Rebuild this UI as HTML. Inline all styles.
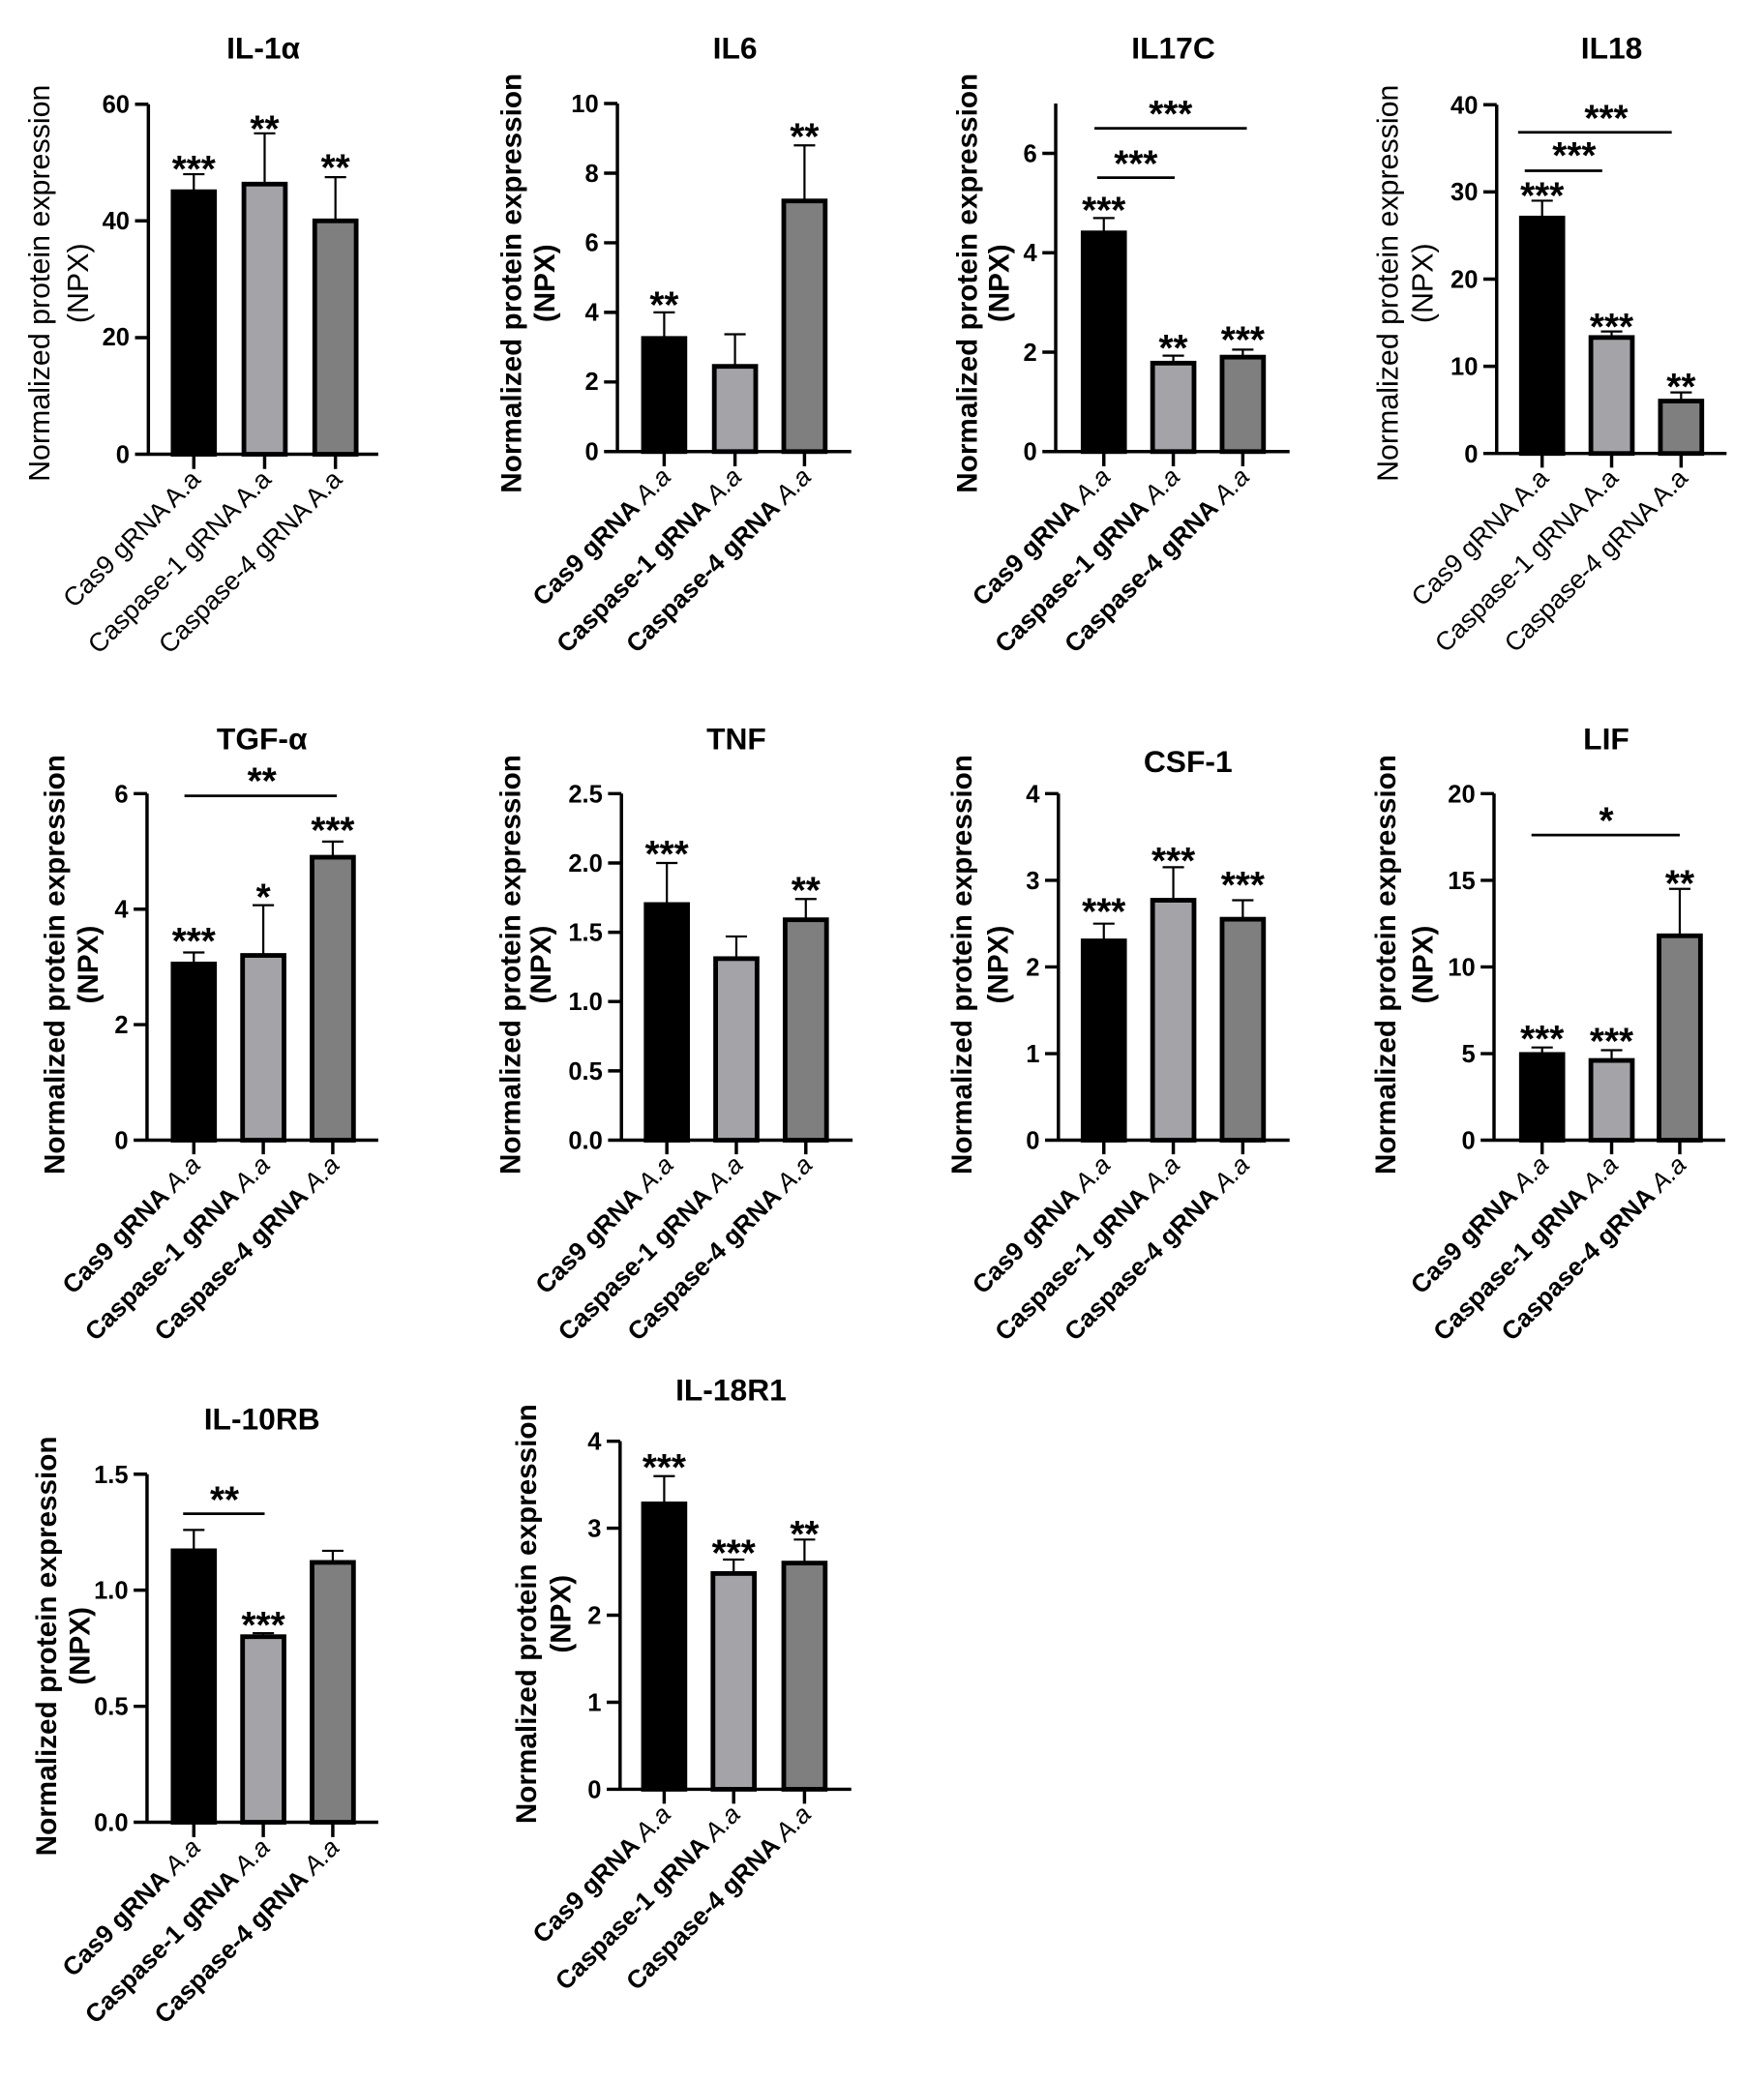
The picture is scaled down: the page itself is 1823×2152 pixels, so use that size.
<!DOCTYPE html>
<html><head><meta charset="utf-8"><style>
html,body{margin:0;padding:0;background:#fff;}
svg{display:block;}
text{font-family:"Liberation Sans",Arial,sans-serif;fill:#000;}
.t{font-size:23px;font-weight:bold;text-anchor:middle;}
.tk{font-size:18.5px;font-weight:bold;text-anchor:end;}
.yl{font-size:21.5px;font-weight:bold;text-anchor:middle;}
.ylr{font-size:22px;font-weight:normal;text-anchor:middle;}
.xl{font-size:19px;font-weight:bold;text-anchor:end;}
.xlr{font-size:19.5px;font-weight:normal;text-anchor:end;}
.it{font-style:italic;font-weight:normal;}
.st{font-size:28px;font-weight:bold;text-anchor:middle;}
.ax{stroke:#000;stroke-width:2.5;fill:none;}
.er{stroke:#000;stroke-width:1.6;fill:none;}
.br{stroke:#000;stroke-width:2;fill:none;}
.b1{fill:#000;stroke:#000;stroke-width:3.5;}
.b2{fill:#a3a3a8;stroke:#000;stroke-width:3.5;}
.b3{fill:#7f7f7f;stroke:#000;stroke-width:3.5;}
</style></head><body>
<svg width="1823" height="2152" viewBox="0 0 1320 1558.3" xmlns="http://www.w3.org/2000/svg">

<!-- Panel 1 IL-1α -->
<text class="t" x="197" y="44">IL-1α</text>
<text class="ylr" transform="translate(37,212) rotate(-90)">Normalized protein expression</text>
<text class="ylr" transform="translate(66,212) rotate(-90)">(NPX)</text>
<path class="ax" d="M111,78 V340 H283 M101,78 H111 M101,165.3 H111 M101,252.7 H111 M101,340 H111 M145,340 V351 M198,340 V351 M251,340 V351"/>
<text class="tk" x="97" y="84.5">60</text><text class="tk" x="97" y="171.5">40</text><text class="tk" x="97" y="258.5">20</text><text class="tk" x="97" y="346.5">0</text>
<rect class="b1" x="129.5" y="143.5" width="31" height="196.5"/>
<rect class="b2" x="182.5" y="137.8" width="31" height="202.2"/>
<rect class="b3" x="235.5" y="165.3" width="31" height="174.7"/>
<path class="er" d="M145,143.5 V130.4 M137,130.4 H153 M198,137.8 V99.8 M190,99.8 H206 M251,165.3 V132.6 M243,132.6 H259"/>
<text class="st" x="145" y="136">***</text><text class="st" x="198" y="106">**</text><text class="st" x="251" y="135">**</text>
<text class="xlr" transform="translate(151,360) rotate(-45)">Cas9 gRNA A.a</text>
<text class="xlr" transform="translate(204,360) rotate(-45)">Caspase-1 gRNA A.a</text>
<text class="xlr" transform="translate(257,360) rotate(-45)">Caspase-4 gRNA A.a</text>

<!-- Panel 2 IL6 -->
<text class="t" x="550" y="44">IL6</text>
<text class="yl" transform="translate(390,212) rotate(-90)">Normalized protein expression</text>
<text class="yl" transform="translate(415,212) rotate(-90)">(NPX)</text>
<path class="ax" d="M462,77.5 V338 H637 M452,77.5 H462 M452,129.6 H462 M452,181.7 H462 M452,233.8 H462 M452,285.9 H462 M452,338 H462 M497,338 V349 M550,338 V349 M602,338 V349"/>
<text class="tk" x="448" y="84">10</text><text class="tk" x="448" y="136">8</text><text class="tk" x="448" y="188">6</text><text class="tk" x="448" y="240">4</text><text class="tk" x="448" y="292">2</text><text class="tk" x="448" y="344.5">0</text>
<rect class="b1" x="481.5" y="253.3" width="31" height="84.7"/>
<rect class="b2" x="534.5" y="274.2" width="31" height="63.8"/>
<rect class="b3" x="586.5" y="150.4" width="31" height="187.6"/>
<path class="er" d="M497,253.3 V233.8 M489,233.8 H505 M550,274.2 V250.2 M542,250.2 H558 M602,150.4 V108.8 M594,108.8 H610"/>
<text class="st" x="497" y="238">**</text><text class="st" x="602" y="112">**</text>
<text class="xl" transform="translate(503,358) rotate(-45)">Cas9 gRNA <tspan class="it">A.a</tspan></text>
<text class="xl" transform="translate(556,358) rotate(-45)">Caspase-1 gRNA <tspan class="it">A.a</tspan></text>
<text class="xl" transform="translate(608,358) rotate(-45)">Caspase-4 gRNA <tspan class="it">A.a</tspan></text>

<!-- Panel 3 IL17C -->
<text class="t" x="878" y="44">IL17C</text>
<text class="yl" transform="translate(731,212) rotate(-90)">Normalized protein expression</text>
<text class="yl" transform="translate(755,212) rotate(-90)">(NPX)</text>
<path class="ax" d="M790,77.5 V338 H965 M780,114.8 H790 M780,189.2 H790 M780,263.6 H790 M780,338 H790 M826,338 V349 M878,338 V349 M930,338 V349"/>
<text class="tk" x="776" y="121.3">6</text><text class="tk" x="776" y="195.7">4</text><text class="tk" x="776" y="270">2</text><text class="tk" x="776" y="344.5">0</text>
<rect class="b1" x="810.5" y="174.3" width="31" height="163.7"/>
<rect class="b2" x="862.5" y="271.8" width="31" height="66.2"/>
<rect class="b3" x="914.5" y="267.3" width="31" height="70.7"/>
<path class="er" d="M826,174.3 V163.2 M818,163.2 H834 M878,271.8 V266.2 M870,266.2 H886 M930,267.3 V261.7 M922,261.7 H938"/>
<path class="br" d="M821,133 H879 M819,96 H933"/>
<text class="st" x="826" y="167">***</text><text class="st" x="878" y="270">**</text><text class="st" x="930" y="264">***</text>
<text class="st" x="850" y="132">***</text><text class="st" x="876" y="95">***</text>
<text class="xl" transform="translate(832,358) rotate(-45)">Cas9 gRNA <tspan class="it">A.a</tspan></text>
<text class="xl" transform="translate(884,358) rotate(-45)">Caspase-1 gRNA <tspan class="it">A.a</tspan></text>
<text class="xl" transform="translate(936,358) rotate(-45)">Caspase-4 gRNA <tspan class="it">A.a</tspan></text>

<!-- Panel 4 IL18 -->
<text class="t" x="1206" y="44">IL18</text>
<text class="ylr" transform="translate(1046,212) rotate(-90)">Normalized protein expression</text>
<text class="ylr" transform="translate(1072,212) rotate(-90)">(NPX)</text>
<path class="ax" d="M1120,78.4 V339.4 H1292 M1110,78.4 H1120 M1110,143.65 H1120 M1110,208.9 H1120 M1110,274.15 H1120 M1110,339.4 H1120 M1154,339.4 V350 M1206,339.4 V350 M1258,339.4 V350"/>
<text class="tk" x="1106" y="85">40</text><text class="tk" x="1106" y="150">30</text><text class="tk" x="1106" y="215.4">20</text><text class="tk" x="1106" y="280.6">10</text><text class="tk" x="1106" y="346">0</text>
<rect class="b1" x="1138.5" y="163.2" width="31" height="176.2"/>
<rect class="b2" x="1190.5" y="252.6" width="31" height="86.8"/>
<rect class="b3" x="1242.5" y="300.2" width="31" height="39.2"/>
<path class="er" d="M1154,163.2 V150.2 M1146,150.2 H1162 M1206,252.6 V248.1 M1198,248.1 H1214 M1258,300.2 V293.7 M1250,293.7 H1266"/>
<path class="br" d="M1141,127.8 H1199 M1136,99 H1251"/>
<text class="st" x="1154" y="156">***</text><text class="st" x="1206" y="254">***</text><text class="st" x="1258" y="299">**</text>
<text class="st" x="1178" y="126">***</text><text class="st" x="1202" y="98">***</text>
<text class="xlr" transform="translate(1160,359) rotate(-45)">Cas9 gRNA A.a</text>
<text class="xlr" transform="translate(1212,359) rotate(-45)">Caspase-1 gRNA A.a</text>
<text class="xlr" transform="translate(1264,359) rotate(-45)">Caspase-4 gRNA A.a</text>

<!-- Panel 5 TGF-α -->
<text class="t" x="196" y="561">TGF-α</text>
<text class="yl" transform="translate(48,722) rotate(-90)">Normalized protein expression</text>
<text class="yl" transform="translate(73,722) rotate(-90)">(NPX)</text>
<path class="ax" d="M110,594 V853.4 H283 M100,594 H110 M100,680.5 H110 M100,766.9 H110 M100,853.4 H110 M145,853.4 V864 M197,853.4 V864 M249,853.4 V864"/>
<text class="tk" x="96" y="600.5">6</text><text class="tk" x="96" y="687">4</text><text class="tk" x="96" y="773.4">2</text><text class="tk" x="96" y="860">0</text>
<rect class="b1" x="129.5" y="721.5" width="31" height="131.9"/>
<rect class="b2" x="181.5" y="715.1" width="31" height="138.3"/>
<rect class="b3" x="233.5" y="641.6" width="31" height="211.8"/>
<path class="er" d="M145,721.5 V712.9 M137,712.9 H153 M197,715.1 V677.5 M189,677.5 H205 M249,641.6 V629.9 M241,629.9 H257"/>
<path class="br" d="M138,595.7 H252"/>
<text class="st" x="145" y="714">***</text><text class="st" x="197" y="681">*</text><text class="st" x="249" y="631">***</text><text class="st" x="196" y="594">**</text>
<text class="xl" transform="translate(151,873) rotate(-45)">Cas9 gRNA <tspan class="it">A.a</tspan></text>
<text class="xl" transform="translate(203,873) rotate(-45)">Caspase-1 gRNA <tspan class="it">A.a</tspan></text>
<text class="xl" transform="translate(255,873) rotate(-45)">Caspase-4 gRNA <tspan class="it">A.a</tspan></text>

<!-- Panel 6 TNF -->
<text class="t" x="551" y="561">TNF</text>
<text class="yl" transform="translate(389,722) rotate(-90)">Normalized protein expression</text>
<text class="yl" transform="translate(412,722) rotate(-90)">(NPX)</text>
<path class="ax" d="M465,594 V853.4 H638 M455,594 H465 M455,645.9 H465 M455,697.8 H465 M455,749.6 H465 M455,801.5 H465 M455,853.4 H465 M499,853.4 V864 M551,853.4 V864 M603,853.4 V864"/>
<text class="tk" x="451" y="600.5">2.5</text><text class="tk" x="451" y="652.4">2.0</text><text class="tk" x="451" y="704.3">1.5</text><text class="tk" x="451" y="756">1.0</text><text class="tk" x="451" y="808">0.5</text><text class="tk" x="451" y="860">0.0</text>
<rect class="b1" x="483.5" y="677" width="31" height="176.4"/>
<rect class="b2" x="535.5" y="717.5" width="31" height="135.9"/>
<rect class="b3" x="587.5" y="688.4" width="31" height="165"/>
<path class="er" d="M499,677 V645.9 M491,645.9 H507 M551,717.5 V700.9 M543,700.9 H559 M603,688.4 V672.9 M595,672.9 H611"/>
<text class="st" x="499" y="649">***</text><text class="st" x="603" y="676">**</text>
<text class="xl" transform="translate(505,873) rotate(-45)">Cas9 gRNA <tspan class="it">A.a</tspan></text>
<text class="xl" transform="translate(557,873) rotate(-45)">Caspase-1 gRNA <tspan class="it">A.a</tspan></text>
<text class="xl" transform="translate(609,873) rotate(-45)">Caspase-4 gRNA <tspan class="it">A.a</tspan></text>

<!-- Panel 7 CSF-1 -->
<text class="t" x="889" y="578">CSF-1</text>
<text class="yl" transform="translate(727,722) rotate(-90)">Normalized protein expression</text>
<text class="yl" transform="translate(754,722) rotate(-90)">(NPX)</text>
<path class="ax" d="M792,594 V853.4 H965 M782,594 H792 M782,658.9 H792 M782,723.7 H792 M782,788.6 H792 M782,853.4 H792 M826,853.4 V864 M878,853.4 V864 M930,853.4 V864"/>
<text class="tk" x="778" y="600.5">4</text><text class="tk" x="778" y="665.4">3</text><text class="tk" x="778" y="730.2">2</text><text class="tk" x="778" y="795">1</text><text class="tk" x="778" y="860">0</text>
<rect class="b1" x="810.5" y="704.2" width="31" height="149.2"/>
<rect class="b2" x="862.5" y="673.8" width="31" height="179.6"/>
<rect class="b3" x="914.5" y="688" width="31" height="165.4"/>
<path class="er" d="M826,704.2 V691.3 M818,691.3 H834 M878,673.8 V649.1 M870,649.1 H886 M930,688 V673.8 M922,673.8 H938"/>
<text class="st" x="826" y="692">***</text><text class="st" x="878" y="654">***</text><text class="st" x="930" y="672">***</text>
<text class="xl" transform="translate(832,873) rotate(-45)">Cas9 gRNA <tspan class="it">A.a</tspan></text>
<text class="xl" transform="translate(884,873) rotate(-45)">Caspase-1 gRNA <tspan class="it">A.a</tspan></text>
<text class="xl" transform="translate(936,873) rotate(-45)">Caspase-4 gRNA <tspan class="it">A.a</tspan></text>

<!-- Panel 8 LIF -->
<text class="t" x="1202" y="561">LIF</text>
<text class="yl" transform="translate(1044,722) rotate(-90)">Normalized protein expression</text>
<text class="yl" transform="translate(1072,722) rotate(-90)">(NPX)</text>
<path class="ax" d="M1118,594 V853.4 H1291 M1108,594 H1118 M1108,658.9 H1118 M1108,723.7 H1118 M1108,788.6 H1118 M1108,853.4 H1118 M1154,853.4 V864 M1206,853.4 V864 M1257,853.4 V864"/>
<text class="tk" x="1104" y="600.5">20</text><text class="tk" x="1104" y="665.4">15</text><text class="tk" x="1104" y="730.2">10</text><text class="tk" x="1104" y="795">5</text><text class="tk" x="1104" y="860">0</text>
<rect class="b1" x="1138.5" y="789.2" width="31" height="64.2"/>
<rect class="b2" x="1190.5" y="793.7" width="31" height="59.7"/>
<rect class="b3" x="1241.5" y="700.4" width="31" height="153"/>
<path class="er" d="M1154,789.2 V784 M1146,784 H1162 M1206,793.7 V786 M1198,786 H1214 M1257,700.4 V665.3 M1249,665.3 H1265"/>
<path class="br" d="M1146,625 H1257"/>
<text class="st" x="1154" y="787">***</text><text class="st" x="1206" y="789">***</text><text class="st" x="1257" y="671">**</text><text class="st" x="1202" y="624">*</text>
<text class="xl" transform="translate(1160,873) rotate(-45)">Cas9 gRNA <tspan class="it">A.a</tspan></text>
<text class="xl" transform="translate(1212,873) rotate(-45)">Caspase-1 gRNA <tspan class="it">A.a</tspan></text>
<text class="xl" transform="translate(1263,873) rotate(-45)">Caspase-4 gRNA <tspan class="it">A.a</tspan></text>

<!-- Panel 9 IL-10RB -->
<text class="t" x="196" y="1070">IL-10RB</text>
<text class="yl" transform="translate(42,1232) rotate(-90)">Normalized protein expression</text>
<text class="yl" transform="translate(67,1232) rotate(-90)">(NPX)</text>
<path class="ax" d="M110,1103.4 V1363.9 H283 M100,1103.4 H110 M100,1190.2 H110 M100,1277.1 H110 M100,1363.9 H110 M145,1363.9 V1375 M197,1363.9 V1375 M249,1363.9 V1375"/>
<text class="tk" x="96" y="1110">1.5</text><text class="tk" x="96" y="1196.7">1.0</text><text class="tk" x="96" y="1283.6">0.5</text><text class="tk" x="96" y="1370.4">0.0</text>
<rect class="b1" x="129.5" y="1160.7" width="31" height="203.2"/>
<rect class="b2" x="181.5" y="1225" width="31" height="138.9"/>
<rect class="b3" x="233.5" y="1169.4" width="31" height="194.5"/>
<path class="er" d="M145,1160.7 V1145.1 M137,1145.1 H153 M197,1225 V1222.4 M189,1222.4 H205 M249,1169.4 V1160.7 M241,1160.7 H257"/>
<path class="br" d="M137,1133 H198"/>
<text class="st" x="197" y="1226">***</text><text class="st" x="168" y="1132">**</text>
<text class="xl" transform="translate(151,1384) rotate(-45)">Cas9 gRNA <tspan class="it">A.a</tspan></text>
<text class="xl" transform="translate(203,1384) rotate(-45)">Caspase-1 gRNA <tspan class="it">A.a</tspan></text>
<text class="xl" transform="translate(255,1384) rotate(-45)">Caspase-4 gRNA <tspan class="it">A.a</tspan></text>

<!-- Panel 10 IL-18R1 -->
<text class="t" x="547" y="1048">IL-18R1</text>
<text class="yl" transform="translate(401,1208) rotate(-90)">Normalized protein expression</text>
<text class="yl" transform="translate(427,1208) rotate(-90)">(NPX)</text>
<path class="ax" d="M464,1078.7 V1339.2 H637 M454,1078.7 H464 M454,1143.8 H464 M454,1208.9 H464 M454,1274.1 H464 M454,1339.2 H464 M497,1339.2 V1350 M549,1339.2 V1350 M602,1339.2 V1350"/>
<text class="tk" x="450" y="1085.2">4</text><text class="tk" x="450" y="1150.3">3</text><text class="tk" x="450" y="1215.4">2</text><text class="tk" x="450" y="1280.6">1</text><text class="tk" x="450" y="1345.7">0</text>
<rect class="b1" x="481.5" y="1125.6" width="31" height="213.6"/>
<rect class="b2" x="533.5" y="1177.7" width="31" height="161.5"/>
<rect class="b3" x="586.5" y="1169.9" width="31" height="169.3"/>
<path class="er" d="M497,1125.6 V1104.8 M489,1104.8 H505 M549,1177.7 V1167.3 M541,1167.3 H557 M602,1169.9 V1152.3 M594,1152.3 H610"/>
<text class="st" x="497" y="1108">***</text><text class="st" x="549" y="1172">***</text><text class="st" x="602" y="1158">**</text>
<text class="xl" transform="translate(503,1359) rotate(-45)">Cas9 gRNA <tspan class="it">A.a</tspan></text>
<text class="xl" transform="translate(555,1359) rotate(-45)">Caspase-1 gRNA <tspan class="it">A.a</tspan></text>
<text class="xl" transform="translate(608,1359) rotate(-45)">Caspase-4 gRNA <tspan class="it">A.a</tspan></text>

</svg>
</body></html>
